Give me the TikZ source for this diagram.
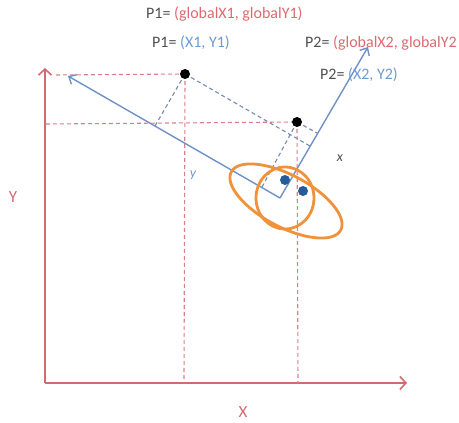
\documentclass[tikz,border=0pt]{standalone}
\usepackage{fontspec}
\setmainfont{Carlito}
\usetikzlibrary{arrows.meta}

\definecolor{axisred}{HTML}{D46A70}
\definecolor{txtred}{HTML}{DC6A6E}
\definecolor{locblue}{HTML}{6F90C6}
\definecolor{txtblue}{HTML}{6A9BD6}
\definecolor{ellorange}{HTML}{F0923C}
\definecolor{dotblue}{HTML}{255C96}
\definecolor{txtgray}{HTML}{505050}

\begin{document}
\begin{tikzpicture}[x=1pt,y=-1pt,
        dot/.style={circle,fill=black,inner sep=0pt,minimum size=10pt},
        mdot/.style={circle,fill=dotblue,inner sep=0pt,minimum size=10pt},
        axis/.style={draw=axisred,line width=1.6pt,
          -{Straight Barb[length=6pt,width=13pt]}},
        locaxis/.style={draw=locblue,line width=1.4pt,
          -{Straight Barb[length=6pt,width=11pt]}},
        guide/.style={draw=axisred!85,line width=1.1pt,
          dash pattern=on 4pt off 3pt},
        proj/.style={draw=locblue!70!gray,line width=1.1pt,
          dash pattern=on 4pt off 3pt},
        lbl/.style={font=\fontsize{16}{18}\selectfont,text=txtgray,
          inner sep=0pt,anchor=west},
        ]
        \useasboundingbox (0,0) rectangle (459,423);

        % global frame
        \coordinate (o) at (45,383);
        \coordinate (ytip) at (45,68);
        \coordinate (xtip) at (407,383);
        \draw[axis] (o) -- (ytip);
        \draw[axis] (o) -- (xtip);
        \node (Y) [text=axisred,font=\fontsize{17}{19}\selectfont] at (13,197) {Y};
        \node (X) [text=axisred,font=\fontsize{17}{19}\selectfont] at (243,412) {X};

        % points
        \coordinate (p1) at (185,74);
        \coordinate (p2) at (297,122);

        \coordinate (y1) at (56,75);
        \coordinate (y2) at (46,124);
        \coordinate (x1) at (184,383);
        \coordinate (x2) at (298,383);
        \draw[guide] (y1) -- (p1);
        \draw[guide] (y2) -- (p2);
        \draw[guide] (p1) -- (x1);
        \draw[guide] (p2) -- (x2);

        % local frame
        \coordinate (lo) at (280,198);
        \coordinate (lytip) at (68,76);
        \coordinate (lxtip) at (368,47);

        \coordinate (p1y) at (155,126);
        \coordinate (p1x) at (310,146);
        \coordinate (p2y) at (262,187);
        \coordinate (p2x) at (317,133);
        \draw[proj] (p1) -- (p1y);
        \draw[proj] (p1) -- (p1x);
        \draw[proj] (p2) -- (p2y);
        \draw[proj] (p2) -- (p2x);

        \node (P1) [dot] at (p1) {};
        \node (P2) [dot] at (p2) {};

        \draw[locaxis] (lo) -- (lytip);
        \draw[locaxis] (lo) -- (lxtip);
        \node (ly) [text=txtblue,font=\fontsize{14}{16}\selectfont\itshape] at (193,175) {y};
        \node (lx) [text=txtgray,font=\fontsize{14}{16}\selectfont\itshape] at (340,158) {x};

        % ellipses
        \draw[ellorange,line width=2.8pt,rotate around={-28:(286,201)}]
          (286,201) ellipse [x radius=62,y radius=26];
        \draw[ellorange,line width=2.8pt]
          (285,198) ellipse [x radius=29,y radius=31];

        \node (m1) [mdot] at (285,180) {};
        \node (m2) [mdot] at (303,191) {};

        % labels
        \node (t1) [lbl] at (146,14) {P1= \textcolor{txtred}{(globalX1, globalY1)}};
        \node (t2) [lbl] at (152,43) {P1= \textcolor{txtblue}{(X1, Y1)}};
        \node (t3) [lbl] at (305,43) {P2= \textcolor{txtred}{(globalX2, globalY2}};
        \node (t4) [lbl] at (320,75) {P2= \textcolor{txtblue}{(X2, Y2)}};
    \end{tikzpicture}
\end{document}
